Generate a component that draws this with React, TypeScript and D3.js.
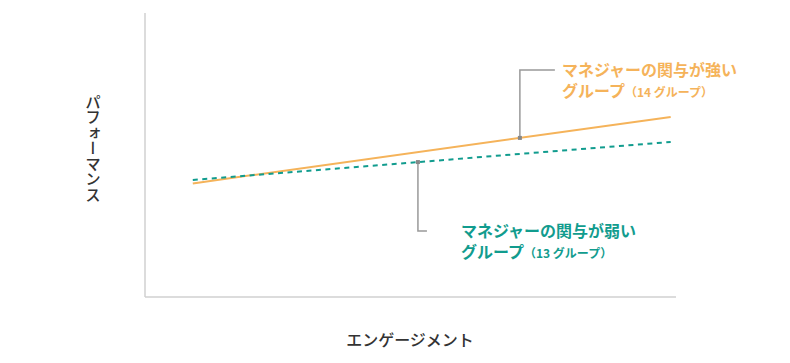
import React from "react";
import * as d3 from "d3";

// engagement (x) from start to end of each trend line, performance (y) values
const engagement = [9, 99];
const strongGroup = [40, 63.4];
const weakGroup = [41.2, 54.6];

// where each callout touches its line (x in engagement units)
const strongNoteAt = 70.6;
const weakNoteAt = 51.4;

const strongLabel = ["マネジャーの関与が強い", "グループ", "（14 グループ）"];
const weakLabel = ["マネジャーの関与が弱い", "グループ", "（13 グループ）"];

const yTitle = "パフォーマンス";
const xTitle = "エンゲージメント";

const ORANGE = "#f5b35a";
const TEAL = "#119c8e";
const FONT = "'Noto Sans CJK JP', 'Noto Sans', sans-serif";

function Callout({ tx, ty, color, label }: { tx: number; ty: number; color: string; label: string[] }) {
  return (
    <text x={tx} y={ty} fill={color} fontWeight={700}>
      <tspan fontSize={16}>{label[0]}</tspan>
      <tspan x={tx} dy={21} fontSize={16}>{label[1]}</tspan>
      <tspan fontSize={12}>{label[2]}</tspan>
    </text>
  );
}

export default function App() {
  const width = 790;
  const height = 363;

  const x = d3.scaleLinear().domain([0, 100]).range([145, 676]);
  const y = d3.scaleLinear().domain([0, 100]).range([297, 13]);

  const line = d3
    .line<[number, number]>()
    .x((d) => x(d[0]))
    .y((d) => y(d[1]));

  const strongPts = engagement.map((e, i) => [e, strongGroup[i]] as [number, number]);
  const weakPts = engagement.map((e, i) => [e, weakGroup[i]] as [number, number]);

  // y value on a line at a given x
  const onLine = (vals: number[], at: number) =>
    d3.scaleLinear().domain(engagement).range(vals)(at);

  const sx = x(strongNoteAt);
  const sy = y(onLine(strongGroup, strongNoteAt));
  const wx = x(weakNoteAt);
  const wy = y(onLine(weakGroup, weakNoteAt));

  return (
    <svg
      width={width}
      height={height}
      style={{ position: "absolute", left: 0, top: 0, background: "#fff" }}
      fontFamily={FONT}
    >
      {/* axes */}
      <line x1={x(0)} x2={x(0)} y1={y(100)} y2={y(0)} stroke="#d0d0d0" strokeWidth={1.5} />
      <line x1={x(0)} x2={x(100)} y1={y(0)} y2={y(0)} stroke="#d0d0d0" strokeWidth={1.5} />

      {/* trend lines */}
      <path d={line(strongPts) ?? ""} fill="none" stroke={ORANGE} strokeWidth={2} />
      <path
        d={line(weakPts) ?? ""}
        fill="none"
        stroke={TEAL}
        strokeWidth={2}
        strokeDasharray="5 4.5"
      />

      {/* strong callout */}
      <polyline
        points={`${sx},${sy} ${sx},${sy - 68} ${sx + 35},${sy - 68}`}
        fill="none"
        stroke="#999"
        strokeWidth={1.5}
      />
      <rect x={sx - 2} y={sy - 2} width={4} height={4} fill="#888" />
      <Callout tx={sx + 42} ty={sy - 62} color={ORANGE} label={strongLabel} />

      {/* weak callout */}
      <polyline
        points={`${wx},${wy} ${wx},${wy + 69} ${wx + 9},${wy + 69}`}
        fill="none"
        stroke="#999"
        strokeWidth={1.5}
      />
      <rect x={wx - 2} y={wy - 2} width={4} height={4} fill="#888" />
      <Callout tx={wx + 43} ty={wy + 75} color={TEAL} label={weakLabel} />

      {/* axis titles */}
      <text
        x={93}
        y={94}
        fill="#333"
        fontSize={15.5}
        fontWeight={500}
        style={{ writingMode: "vertical-rl", textOrientation: "upright" } as any}
      >
        {yTitle}
      </text>
      <text x={410} y={346} fill="#333" fontSize={16} fontWeight={500} textAnchor="middle">
        {xTitle}
      </text>
    </svg>
  );
}
